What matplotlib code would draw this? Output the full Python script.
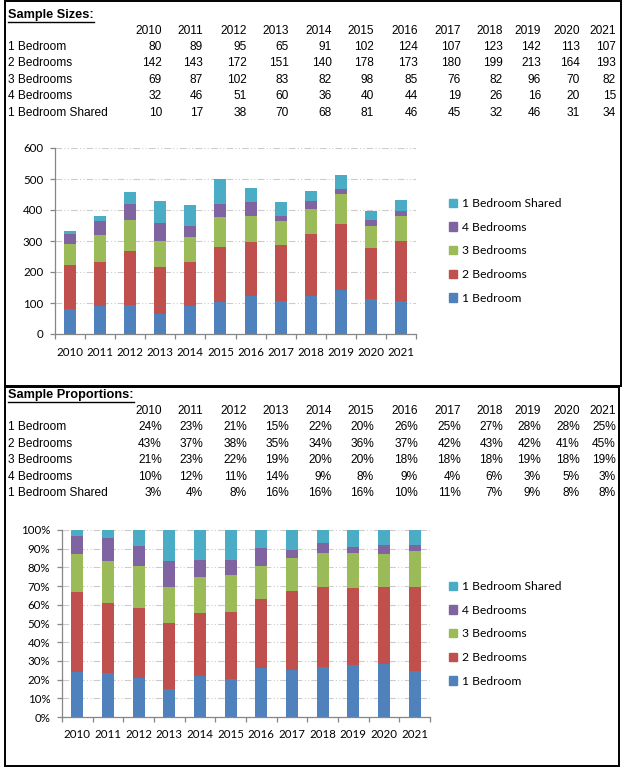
import numpy as np
import matplotlib
matplotlib.use('Agg')
import matplotlib.pyplot as plt
from matplotlib.patches import Rectangle
from matplotlib.lines import Line2D
from matplotlib.ticker import FuncFormatter

# data
years = ['2010', '2011', '2012', '2013', '2014', '2015',
         '2016', '2017', '2018', '2019', '2020', '2021']
bed1 = [80, 89, 95, 65, 91, 102, 124, 107, 123, 142, 113, 107]
bed2 = [142, 143, 172, 151, 140, 178, 173, 180, 199, 213, 164, 193]
bed3 = [69, 87, 102, 83, 82, 98, 85, 76, 82, 96, 70, 82]
bed4 = [32, 46, 51, 60, 36, 40, 44, 19, 26, 16, 20, 15]
bed1s = [10, 17, 38, 70, 68, 81, 46, 45, 32, 46, 31, 34]

pct1 = [24, 23, 21, 15, 22, 20, 26, 25, 27, 28, 28, 25]
pct2 = [43, 37, 38, 35, 34, 36, 37, 42, 43, 42, 41, 45]
pct3 = [21, 23, 22, 19, 20, 20, 18, 18, 18, 19, 18, 19]
pct4 = [10, 12, 11, 14, 9, 8, 9, 4, 6, 3, 5, 3]
pct1s = [3, 4, 8, 16, 16, 16, 10, 11, 7, 9, 8, 8]

series_names = ['1 Bedroom', '2 Bedrooms', '3 Bedrooms', '4 Bedrooms', '1 Bedroom Shared']
colors = ['#4F81BD', '#C0504D', '#9BBB59', '#8064A2', '#4BACC6']

W, H = 625, 771
fig = plt.figure(figsize=(W / 100, H / 100), dpi=100)


def fx(px):
    return px / W


def fy(py):
    return 1 - py / H


# outer boxes
for (x0, y0, x1, y1) in [(5, 1, 621, 385.5), (5, 386.5, 619, 766)]:
    fig.add_artist(Rectangle((fx(x0), fy(y1)), fx(x1) - fx(x0), fy(y0) - fy(y1),
                             transform=fig.transFigure, fill=False,
                             edgecolor='black', linewidth=1.4))

col_right = [162, 203, 247, 289, 332, 374, 418, 461, 503, 541, 580, 616]
tfont = dict(family=['Liberation Sans', 'DejaVu Sans'], fontsize=8.6)


def draw_table(title, title_y, header_y, row_ys, rows, fmt):
    t = fig.text(fx(8), fy(title_y), title, ha='left', va='center',
                 fontweight='bold', family=['Liberation Sans', 'DejaVu Sans'],
                 fontsize=9.2)
    fig.canvas.draw()
    bb = t.get_window_extent()
    fig.add_artist(Line2D([bb.x0 / W, bb.x1 / W], [fy(title_y + 7)] * 2,
                          transform=fig.transFigure, color='black', linewidth=1.0))
    for xr, yr in zip(col_right, years):
        fig.text(fx(xr), fy(header_y), yr, ha='right', va='center', **tfont)
    for name, vals, ry in zip(series_names, rows, row_ys):
        fig.text(fx(8), fy(ry), name, ha='left', va='center', **tfont)
        for xr, v in zip(col_right, vals):
            fig.text(fx(xr), fy(ry), fmt(v), ha='right', va='center', **tfont)


draw_table('Sample Sizes:', 15, 31, [47, 63, 80, 96, 113],
           [bed1, bed2, bed3, bed4, bed1s], lambda v: str(v))
draw_table('Sample Proportions:', 395, 411, [427, 444, 460, 477, 493],
           [pct1, pct2, pct3, pct4, pct1s], lambda v: '{}%'.format(v))

cfont = ['Lato', 'DejaVu Sans']
axis_col = '#868686'
grid_col = '#CCCCCC'


def style_axes(ax, n):
    x = np.arange(n)
    ax.set_xlim(-0.5, n - 0.5)
    ax.set_xticks(np.arange(n + 1) - 0.5)
    ax.set_xticklabels([])
    ax.set_xticks(x, minor=True)
    ax.set_xticklabels(years, minor=True, family=cfont, fontsize=8.3)
    ax.tick_params(axis='x', which='major', direction='out', length=3.5,
                   color=axis_col, width=0.9)
    ax.tick_params(axis='x', which='minor', length=0, pad=9)
    ax.tick_params(axis='y', direction='out', length=3.5, color=axis_col,
                   width=0.9, pad=5, labelsize=8.3)
    for lab in ax.get_yticklabels():
        lab.set_family(cfont)
    for s in ['top', 'right']:
        ax.spines[s].set_visible(False)
    for s in ['left', 'bottom']:
        ax.spines[s].set_color(axis_col)
        ax.spines[s].set_linewidth(0.9)
    ax.grid(axis='y', color=grid_col, linewidth=0.8, linestyle=(0, (6, 2, 1, 2, 1, 2)))
    ax.set_axisbelow(True)


def draw_stack(ax, data):
    x = np.arange(len(years))
    bottom = np.zeros(len(years))
    for name, vals, c in zip(series_names, data, colors):
        ax.bar(x, vals, 0.4, bottom=bottom, color=c, label=name, linewidth=0)
        bottom = bottom + np.array(vals, dtype=float)


def draw_legend(top_px):
    handles = [Rectangle((0, 0), 1, 1, color=c) for c in colors]
    leg = fig.legend(handles[::-1], series_names[::-1], loc='upper left',
                     bbox_to_anchor=(fx(449), fy(top_px)), frameon=False,
                     prop={'family': cfont, 'size': 8.7}, handlelength=0.7,
                     handleheight=0.7, handletextpad=0.4, labelspacing=1.05,
                     borderpad=0, borderaxespad=0)
    return leg


# top chart: counts
ax1 = fig.add_axes([fx(55), fy(334), fx(416) - fx(55), fy(148) - fy(334)])
counts = [bed1, bed2, bed3, bed4, bed1s]
draw_stack(ax1, counts)
ax1.set_ylim(0, 600)
ax1.set_yticks(range(0, 601, 100))
style_axes(ax1, len(years))
draw_legend(198)

# bottom chart: 100% stacked
ax2 = fig.add_axes([fx(62), fy(717), fx(430) - fx(62), fy(530) - fy(717)])
totals = np.sum(np.array(counts, dtype=float), axis=0)
shares = [np.array(v) / totals for v in counts]
draw_stack(ax2, shares)
ax2.set_ylim(0, 1)
ax2.set_yticks(np.arange(0, 1.01, 0.1))
ax2.yaxis.set_major_formatter(FuncFormatter(lambda v, p: '{:.0f}%'.format(v * 100)))
style_axes(ax2, len(years))
draw_legend(581)

fig.savefig('out.png', dpi=100)
